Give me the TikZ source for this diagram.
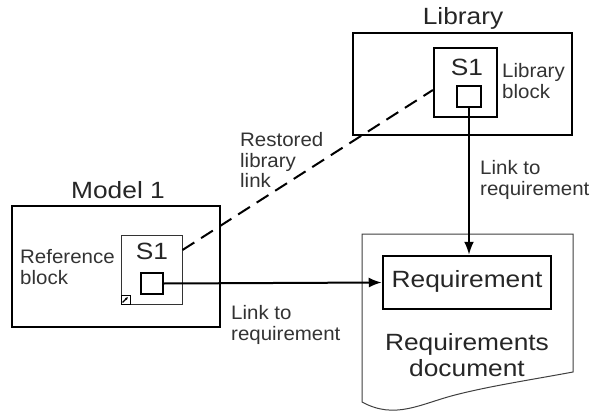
\documentclass[tikz,border=0pt]{standalone}
\usepackage{fontspec}
\setmainfont[FakeStretch=1.12]{Liberation Sans}
\newfontfamily\smallfam[FakeStretch=1.05]{Liberation Sans}
\usetikzlibrary{arrows.meta,calc}
\begin{document}
\begin{tikzpicture}[x=1pt,y=-1pt,
  bigtxt/.style={font=\fontsize{23.5}{25}\selectfont,text=black!85,inner sep=0pt},
  smalltxt/.style={font=\smallfam\fontsize{19.5}{20.5}\selectfont,text=black!80,align=left,inner sep=0pt},
  link/.style={line width=2pt,-{Latex[length=13pt,width=10pt]}},
  dashlink/.style={line width=2pt,dash pattern=on 14pt off 8pt}]
\useasboundingbox (0,0) rectangle (594,414);
\fill[white] (0,0) rectangle (594,414);
% Library
\node[draw,line width=2.5pt,minimum width=219pt,minimum height=102pt] (lib) at (462.5,84) {};
\node[bigtxt] (libtitle) at (463,18) {Library};
\node[draw,line width=2.2pt,minimum width=63pt,minimum height=69pt,inner sep=0pt] (libs1) at (465.5,82.5) {};
\node[bigtxt] (libs1t) at (467,67) {S1};
\node[draw,line width=2.2pt,minimum width=24pt,minimum height=21pt,inner sep=0pt] (libport) at (469,96.5) {};
\node[smalltxt,anchor=west] (libblk) at (502,81) {Library\\block};
% Model 1
\node[draw,line width=2.5pt,minimum width=208pt,minimum height=121pt] (model) at (116,266.5) {};
\node[bigtxt] (modeltitle) at (118,190) {Model 1};
\node[draw,line width=1pt,draw=black!80,minimum width=61pt,minimum height=69pt,inner sep=0pt] (refs1) at (151.5,269.5) {};
\node[bigtxt] (refs1t) at (152,251) {S1};
\node[draw,line width=2.2pt,minimum width=22pt,minimum height=21pt,inner sep=0pt] (refport) at (152,283.5) {};
\node[draw,line width=1pt,minimum width=9pt,minimum height=9pt,inner sep=0pt,anchor=south west] (icon) at (refs1.south west) {};
\draw[line width=1.2pt,-{Latex[length=3pt,width=3pt]}] ([shift={(2,-2)}]icon.south west) -- ([shift={(-2.5,2.5)}]icon.north east);
\node[smalltxt,anchor=west] (refblk) at (20,267) {Reference\\block};
% Requirements document
\draw[line width=1pt,draw=black!75] (362,234) coordinate (docnw) -- (573,234) coordinate (docne) -- (573,372)
  .. controls (530,380) and (490,386) .. (455,395)
  .. controls (420,404) and (395,420) .. (362,402) -- cycle;
\node[draw,line width=2.5pt,minimum width=168pt,minimum height=53pt,inner sep=0pt] (req) at (467,282.5) {};
\node[bigtxt] (reqt) at (467,281) {Requirement};
\node[bigtxt,align=center,font=\fontsize{23.5}{26}\selectfont] (doct) at (467,355) {Requirements\\document};
% Labels
\node[smalltxt,anchor=west] (lnk1) at (480,180) {Link to\\requirement};
\node[smalltxt,anchor=west] (lnk2) at (231,325) {Link to\\requirement};
\node[smalltxt,anchor=west] (rest) at (240,160) {Restored\\library\\link};
% Connectors
\draw[link] (libport.south) -- (libport.south |- req.north);
\draw[link] (refport.east) -- (req.west);
\draw[dashlink] ([yshift=19.5pt]refs1.east) -- ([yshift=-7.5pt]libs1.west);
\end{tikzpicture}
\end{document}
